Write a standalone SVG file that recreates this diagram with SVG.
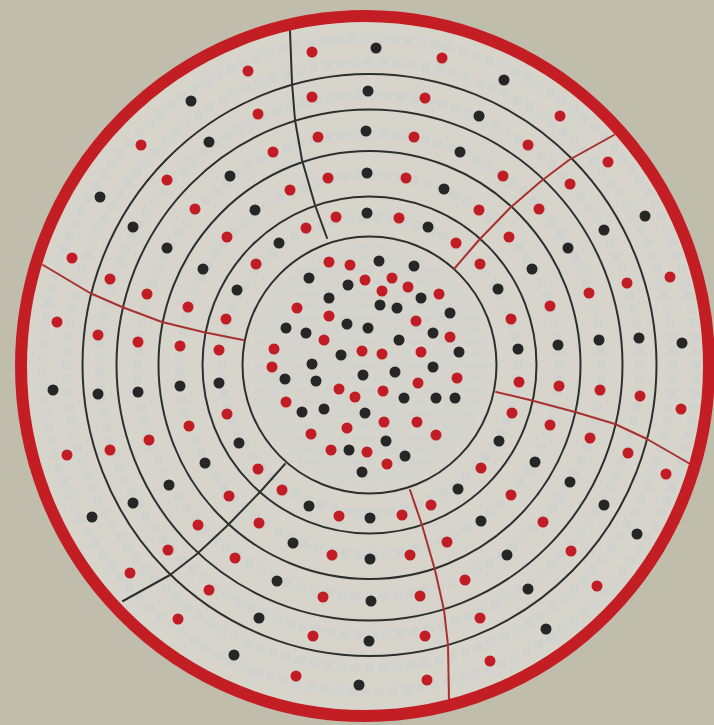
<svg xmlns="http://www.w3.org/2000/svg" width="714" height="725" viewBox="0 0 714 725">
<defs>
<style>
.ring{fill:none;stroke:#2d2f2f;stroke-width:2}
.spk{fill:none;stroke-width:2;stroke-linejoin:round;stroke-linecap:round}
.spr{stroke:#a8302e}
.spb{stroke:#2d2f2f}
.r{fill:#c21d25}
.b{fill:#262626}
.faint{fill:none;stroke:#cdd0d0;stroke-width:10;stroke-linecap:round;stroke-dasharray:0 1;opacity:0.6}
</style>
<pattern id="hex" width="14" height="24" patternUnits="userSpaceOnUse">
<circle cx="7" cy="6" r="5" fill="#cdd0d0"/>
<circle cx="0" cy="18" r="5" fill="#cdd0d0"/>
<circle cx="14" cy="18" r="5" fill="#cdd0d0"/>
</pattern>
</defs>
<rect width="714" height="725" fill="#c1bdac"/>
<g id="disc">
<ellipse cx="365" cy="366" rx="344" ry="350" fill="#d7d5cb"/>
<circle class="faint" cx="369.5" cy="365" r="148" pathLength="66"/>
<circle class="faint" cx="369.5" cy="365" r="190" pathLength="85"/>
<circle class="faint" cx="369.5" cy="365" r="232" pathLength="104"/>
<circle class="faint" cx="369.5" cy="365" r="270" pathLength="121"/>
<circle class="faint" cx="369.5" cy="365" r="303" pathLength="136"/>
<circle class="faint" cx="369.5" cy="365" r="327" pathLength="147"/>
<ellipse cx="369.5" cy="365" rx="120" ry="121" fill="url(#hex)" opacity="0.5"/>
</g>
<g id="rings">
<ellipse class="ring" cx="369.5" cy="365" rx="127" ry="128.5"/>
<ellipse class="ring" cx="369.5" cy="365" rx="167" ry="168.5"/>
<ellipse class="ring" cx="369.5" cy="365" rx="211" ry="214"/>
<ellipse class="ring" cx="369.5" cy="365" rx="253" ry="255.5"/>
<ellipse class="ring" cx="369.5" cy="365" rx="287" ry="291"/>
</g>
<g id="connectors">
<polyline class="spk spb" points="327,238 315,205 302,160 295,120 292,83 290,31"/>
<polyline class="spk spr" points="43,265 90,293 122,307 162,322 203,332 243,340"/>
<polyline class="spk spr" points="614,135 569,160 540,182 510,208 479,240 454,269"/>
<polyline class="spk spr" points="496,392 530,400 575,412 615,424 647,439 692,465"/>
<polyline class="spk spr" points="410,490 422,525 435,570 444,610 448,645 449,700"/>
<polyline class="spk spb" points="285,464 260,492 228,525 197,554 170,575 123,601"/>
</g>
<ellipse id="outer-ring" cx="365" cy="366" rx="344" ry="350" fill="none" stroke="#c41e25" stroke-width="12"/>
<g id="dots-center">
<circle class="r" cx="329" cy="262" r="5.5"/><circle class="r" cx="350" cy="265" r="5.5"/><circle class="b" cx="379" cy="261" r="5.5"/><circle class="b" cx="414" cy="266" r="5.5"/>
<circle class="b" cx="309" cy="278" r="5.5"/><circle class="b" cx="348" cy="285" r="5.5"/><circle class="r" cx="365" cy="280" r="5.5"/><circle class="r" cx="392" cy="278" r="5.5"/>
<circle class="r" cx="382" cy="291" r="5.5"/><circle class="r" cx="408" cy="287" r="5.5"/><circle class="r" cx="439" cy="294" r="5.5"/><circle class="b" cx="329" cy="298" r="5.5"/>
<circle class="r" cx="297" cy="308" r="5.5"/><circle class="b" cx="380" cy="305" r="5.5"/><circle class="b" cx="397" cy="308" r="5.5"/><circle class="b" cx="421" cy="298" r="5.5"/>
<circle class="b" cx="450" cy="313" r="5.5"/><circle class="r" cx="329" cy="316" r="5.5"/><circle class="r" cx="416" cy="321" r="5.5"/><circle class="b" cx="347" cy="324" r="5.5"/>
<circle class="b" cx="368" cy="328" r="5.5"/><circle class="b" cx="286" cy="328" r="5.5"/><circle class="b" cx="306" cy="333" r="5.5"/><circle class="r" cx="324" cy="340" r="5.5"/>
<circle class="b" cx="399" cy="340" r="5.5"/><circle class="b" cx="433" cy="333" r="5.5"/><circle class="r" cx="450" cy="337" r="5.5"/><circle class="r" cx="274" cy="349" r="5.5"/>
<circle class="b" cx="341" cy="355" r="5.5"/><circle class="r" cx="362" cy="351" r="5.5"/><circle class="r" cx="382" cy="354" r="5.5"/><circle class="r" cx="421" cy="352" r="5.5"/>
<circle class="b" cx="459" cy="352" r="5.5"/><circle class="r" cx="272" cy="367" r="5.5"/><circle class="b" cx="312" cy="364" r="5.5"/><circle class="b" cx="363" cy="375" r="5.5"/>
<circle class="b" cx="395" cy="372" r="5.5"/><circle class="b" cx="433" cy="367" r="5.5"/><circle class="b" cx="285" cy="379" r="5.5"/><circle class="b" cx="316" cy="381" r="5.5"/>
<circle class="r" cx="457" cy="378" r="5.5"/><circle class="r" cx="339" cy="389" r="5.5"/><circle class="r" cx="355" cy="397" r="5.5"/><circle class="r" cx="383" cy="391" r="5.5"/>
<circle class="r" cx="418" cy="383" r="5.5"/><circle class="b" cx="404" cy="398" r="5.5"/><circle class="b" cx="436" cy="398" r="5.5"/><circle class="b" cx="455" cy="398" r="5.5"/>
<circle class="r" cx="286" cy="402" r="5.5"/><circle class="b" cx="302" cy="412" r="5.5"/><circle class="b" cx="324" cy="409" r="5.5"/><circle class="b" cx="365" cy="413" r="5.5"/>
<circle class="r" cx="384" cy="422" r="5.5"/><circle class="r" cx="417" cy="422" r="5.5"/><circle class="r" cx="311" cy="434" r="5.5"/><circle class="r" cx="347" cy="428" r="5.5"/>
<circle class="r" cx="436" cy="435" r="5.5"/><circle class="b" cx="386" cy="441" r="5.5"/><circle class="r" cx="331" cy="450" r="5.5"/><circle class="b" cx="349" cy="450" r="5.5"/>
<circle class="r" cx="367" cy="452" r="5.5"/><circle class="b" cx="405" cy="456" r="5.5"/><circle class="r" cx="387" cy="464" r="5.5"/><circle class="b" cx="362" cy="472" r="5.5"/>
</g>
<g id="dots-band-a">
<circle class="r" cx="336" cy="217" r="5.5"/><circle class="r" cx="306" cy="228" r="5.5"/><circle class="b" cx="279" cy="243" r="5.5"/><circle class="r" cx="256" cy="264" r="5.5"/>
<circle class="b" cx="237" cy="290" r="5.5"/><circle class="r" cx="226" cy="319" r="5.5"/><circle class="r" cx="219" cy="350" r="5.5"/>
<circle class="b" cx="367" cy="213" r="5.5"/><circle class="r" cx="399" cy="218" r="5.5"/><circle class="b" cx="428" cy="227" r="5.5"/><circle class="r" cx="456" cy="243" r="5.5"/>
<circle class="r" cx="480" cy="264" r="5.5"/><circle class="b" cx="498" cy="289" r="5.5"/><circle class="r" cx="511" cy="319" r="5.5"/><circle class="b" cx="518" cy="349" r="5.5"/>
<circle class="b" cx="219" cy="383" r="5.5"/><circle class="r" cx="227" cy="414" r="5.5"/><circle class="b" cx="239" cy="443" r="5.5"/><circle class="r" cx="258" cy="469" r="5.5"/>
<circle class="r" cx="282" cy="490" r="5.5"/><circle class="b" cx="309" cy="506" r="5.5"/><circle class="r" cx="339" cy="516" r="5.5"/>
<circle class="b" cx="370" cy="518" r="5.5"/><circle class="r" cx="402" cy="515" r="5.5"/><circle class="r" cx="431" cy="505" r="5.5"/><circle class="b" cx="458" cy="489" r="5.5"/>
<circle class="r" cx="481" cy="468" r="5.5"/><circle class="b" cx="499" cy="441" r="5.5"/><circle class="r" cx="512" cy="413" r="5.5"/><circle class="r" cx="519" cy="382" r="5.5"/>
</g>
<g id="dots-band-b">
<circle class="r" cx="328" cy="178" r="5.5"/><circle class="r" cx="290" cy="190" r="5.5"/><circle class="b" cx="255" cy="210" r="5.5"/><circle class="r" cx="227" cy="237" r="5.5"/>
<circle class="b" cx="203" cy="269" r="5.5"/><circle class="r" cx="188" cy="307" r="5.5"/><circle class="r" cx="180" cy="346" r="5.5"/>
<circle class="b" cx="367" cy="173" r="5.5"/><circle class="r" cx="406" cy="178" r="5.5"/><circle class="b" cx="444" cy="189" r="5.5"/><circle class="r" cx="479" cy="210" r="5.5"/>
<circle class="r" cx="509" cy="237" r="5.5"/><circle class="b" cx="532" cy="269" r="5.5"/><circle class="r" cx="550" cy="306" r="5.5"/><circle class="b" cx="558" cy="345" r="5.5"/>
<circle class="b" cx="180" cy="386" r="5.5"/><circle class="r" cx="189" cy="426" r="5.5"/><circle class="b" cx="205" cy="463" r="5.5"/><circle class="r" cx="229" cy="496" r="5.5"/>
<circle class="r" cx="259" cy="523" r="5.5"/><circle class="b" cx="293" cy="543" r="5.5"/><circle class="r" cx="332" cy="555" r="5.5"/>
<circle class="b" cx="370" cy="559" r="5.5"/><circle class="r" cx="410" cy="555" r="5.5"/><circle class="r" cx="447" cy="542" r="5.5"/><circle class="b" cx="481" cy="521" r="5.5"/>
<circle class="r" cx="511" cy="495" r="5.5"/><circle class="b" cx="535" cy="462" r="5.5"/><circle class="r" cx="550" cy="425" r="5.5"/><circle class="r" cx="559" cy="386" r="5.5"/>
</g>
<g id="dots-band-c">
<circle class="r" cx="318" cy="137" r="5.5"/><circle class="r" cx="273" cy="152" r="5.5"/><circle class="b" cx="230" cy="176" r="5.5"/><circle class="r" cx="195" cy="209" r="5.5"/>
<circle class="b" cx="167" cy="248" r="5.5"/><circle class="r" cx="147" cy="294" r="5.5"/><circle class="r" cx="138" cy="342" r="5.5"/>
<circle class="b" cx="366" cy="131" r="5.5"/><circle class="r" cx="414" cy="137" r="5.5"/><circle class="b" cx="460" cy="152" r="5.5"/><circle class="r" cx="503" cy="176" r="5.5"/>
<circle class="r" cx="539" cy="209" r="5.5"/><circle class="b" cx="568" cy="248" r="5.5"/><circle class="r" cx="589" cy="293" r="5.5"/><circle class="b" cx="599" cy="340" r="5.5"/>
<circle class="b" cx="138" cy="392" r="5.5"/><circle class="r" cx="149" cy="440" r="5.5"/><circle class="b" cx="169" cy="485" r="5.5"/><circle class="r" cx="198" cy="525" r="5.5"/>
<circle class="r" cx="235" cy="558" r="5.5"/><circle class="b" cx="277" cy="581" r="5.5"/><circle class="r" cx="323" cy="597" r="5.5"/>
<circle class="b" cx="371" cy="601" r="5.5"/><circle class="r" cx="420" cy="596" r="5.5"/><circle class="r" cx="465" cy="580" r="5.5"/><circle class="b" cx="507" cy="555" r="5.5"/>
<circle class="r" cx="543" cy="522" r="5.5"/><circle class="b" cx="570" cy="482" r="5.5"/><circle class="r" cx="590" cy="438" r="5.5"/><circle class="r" cx="600" cy="390" r="5.5"/>
</g>
<g id="dots-band-d">
<circle class="r" cx="312" cy="97" r="5.5"/><circle class="r" cx="258" cy="114" r="5.5"/><circle class="b" cx="209" cy="142" r="5.5"/><circle class="r" cx="167" cy="180" r="5.5"/>
<circle class="b" cx="133" cy="227" r="5.5"/><circle class="r" cx="110" cy="279" r="5.5"/><circle class="r" cx="98" cy="335" r="5.5"/>
<circle class="b" cx="368" cy="91" r="5.5"/><circle class="r" cx="425" cy="98" r="5.5"/><circle class="b" cx="479" cy="116" r="5.5"/><circle class="r" cx="528" cy="145" r="5.5"/>
<circle class="r" cx="570" cy="184" r="5.5"/><circle class="b" cx="604" cy="230" r="5.5"/><circle class="r" cx="627" cy="283" r="5.5"/><circle class="b" cx="639" cy="338" r="5.5"/>
<circle class="b" cx="98" cy="394" r="5.5"/><circle class="r" cx="110" cy="450" r="5.5"/><circle class="b" cx="133" cy="503" r="5.5"/><circle class="r" cx="168" cy="550" r="5.5"/>
<circle class="r" cx="209" cy="590" r="5.5"/><circle class="b" cx="259" cy="618" r="5.5"/><circle class="r" cx="313" cy="636" r="5.5"/>
<circle class="b" cx="369" cy="641" r="5.5"/><circle class="r" cx="425" cy="636" r="5.5"/><circle class="r" cx="480" cy="618" r="5.5"/><circle class="b" cx="528" cy="589" r="5.5"/>
<circle class="r" cx="571" cy="551" r="5.5"/><circle class="b" cx="604" cy="505" r="5.5"/><circle class="r" cx="628" cy="453" r="5.5"/><circle class="r" cx="640" cy="396" r="5.5"/>
</g>
<g id="dots-band-e">
<circle class="r" cx="312" cy="52" r="5.5"/><circle class="r" cx="248" cy="71" r="5.5"/><circle class="b" cx="191" cy="101" r="5.5"/><circle class="r" cx="141" cy="145" r="5.5"/>
<circle class="b" cx="100" cy="197" r="5.5"/><circle class="r" cx="72" cy="258" r="5.5"/><circle class="r" cx="57" cy="322" r="5.5"/>
<circle class="b" cx="376" cy="48" r="5.5"/><circle class="r" cx="442" cy="58" r="5.5"/><circle class="b" cx="504" cy="80" r="5.5"/><circle class="r" cx="560" cy="116" r="5.5"/>
<circle class="r" cx="608" cy="162" r="5.5"/><circle class="b" cx="645" cy="216" r="5.5"/><circle class="r" cx="670" cy="277" r="5.5"/><circle class="b" cx="682" cy="343" r="5.5"/>
<circle class="b" cx="53" cy="390" r="5.5"/><circle class="r" cx="67" cy="455" r="5.5"/><circle class="b" cx="92" cy="517" r="5.5"/><circle class="r" cx="130" cy="573" r="5.5"/>
<circle class="r" cx="178" cy="619" r="5.5"/><circle class="b" cx="234" cy="655" r="5.5"/><circle class="r" cx="296" cy="676" r="5.5"/>
<circle class="b" cx="359" cy="685" r="5.5"/><circle class="r" cx="427" cy="680" r="5.5"/><circle class="r" cx="490" cy="661" r="5.5"/><circle class="b" cx="546" cy="629" r="5.5"/>
<circle class="r" cx="597" cy="586" r="5.5"/><circle class="b" cx="637" cy="534" r="5.5"/><circle class="r" cx="666" cy="474" r="5.5"/><circle class="r" cx="681" cy="409" r="5.5"/>
</g>
</svg>
